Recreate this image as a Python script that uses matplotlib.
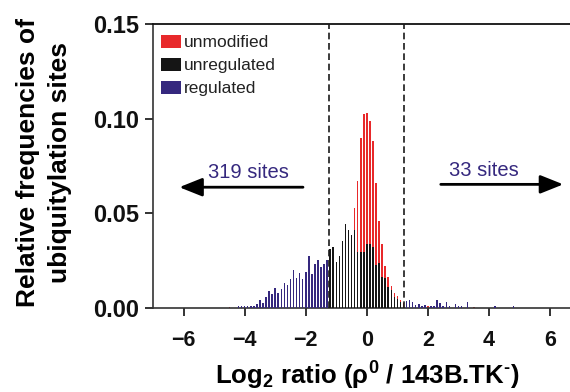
import matplotlib
matplotlib.use("Agg")
import matplotlib.pyplot as plt

plt.rcParams["font.family"] = ["Liberation Sans", "DejaVu Sans"]
plt.rcParams["mathtext.fontset"] = "custom"
plt.rcParams["mathtext.rm"] = "Liberation Sans:bold"
plt.rcParams["mathtext.it"] = "Liberation Sans:bold"
plt.rcParams["mathtext.bf"] = "Liberation Sans:bold"

# Histogram bins (log2 ratio bin centres) and relative frequencies
unmod_x = [-4.5, -0.4, -0.3, -0.2, -0.1, 0.0, 0.1, 0.2, 0.3, 0.4, 0.5, 0.6,
           0.7, 0.8, 0.9, 1.0, 1.1, 1.2, 1.3, 1.5, 1.6, 2.0, 2.6, 3.1, 3.5]
unmod_y = [0.0006, 0.053, 0.067, 0.090, 0.1025, 0.103, 0.099, 0.088, 0.066,
           0.046, 0.034, 0.022, 0.0165, 0.0115, 0.008, 0.0063, 0.0042, 0.0025,
           0.0015, 0.0012, 0.0010, 0.0008, 0.0006, 0.0006, 0.0006]

unreg_x = [-1.2, -1.1, -1.0, -0.9, -0.8, -0.7, -0.6, -0.5, -0.4, -0.3, -0.2,
           -0.1, 0.0, 0.1, 0.2, 0.3, 0.4, 0.5, 0.6, 0.7, 0.8, 0.9, 1.0, 1.1]
unreg_y = [0.031, 0.032, 0.0245, 0.0275, 0.0355, 0.0443, 0.041, 0.0386, 0.041,
           0.0296, 0.0296, 0.0296, 0.034, 0.034, 0.032, 0.0226, 0.0236, 0.0165,
           0.016, 0.0112, 0.0095, 0.006, 0.005, 0.0033]

reg_x = [-4.2, -4.1, -4.0, -3.9, -3.8, -3.7, -3.6, -3.5, -3.4, -3.3, -3.2,
         -3.1, -3.0, -2.9, -2.8, -2.7, -2.6, -2.5, -2.4, -2.3, -2.2, -2.1,
         -2.0, -1.9, -1.8, -1.7, -1.6, -1.5, -1.4, -1.3,
         1.3, 1.4, 1.5, 1.6, 1.7, 1.8, 1.9, 2.1, 2.2, 2.3, 2.4, 2.5, 2.6, 2.7,
         2.9, 3.0, 3.1, 3.3, 4.2, 4.8]
reg_y = [0.0008, 0.0008, 0.0008, 0.0010, 0.0010, 0.0012, 0.0020, 0.0042,
         0.0025, 0.0060, 0.0088, 0.0075, 0.0105, 0.0078, 0.0100, 0.0133,
         0.0122, 0.0155, 0.0200, 0.0160, 0.0185, 0.0155, 0.0190, 0.0275,
         0.0180, 0.0235, 0.0255, 0.0215, 0.0230, 0.0255,
         0.0038, 0.0042, 0.0030, 0.0018, 0.0023, 0.0012, 0.0018, 0.0009,
         0.0012, 0.0044, 0.0026, 0.0012, 0.0030, 0.0008, 0.0023, 0.0008,
         0.0012, 0.0033, 0.0012, 0.0012]

series_labels = ["unmodified", "unregulated", "regulated"]
cutoffs = [-1.24, 1.2]
left_count = "319 sites"
right_count = "33 sites"

RED = "#e8292b"
BLACK = "#151515"
NAVY = "#35287e"

fig = plt.figure(figsize=(5.7, 3.92), dpi=100)
ax = fig.add_axes([153 / 570, 84 / 392, 417 / 570, 284 / 392])

w = 0.05
ax.bar(unmod_x, unmod_y, width=w, color=RED, label=series_labels[0], zorder=2)
ax.bar(unreg_x, unreg_y, width=w, color=BLACK, label=series_labels[1], zorder=3)
ax.bar(reg_x, reg_y, width=w, color=NAVY, label=series_labels[2], zorder=4)

for c in cutoffs:
    ax.axvline(c, color="#1a1a1a", lw=1.2, ls=(0, (4, 2.2)), zorder=5)

ax.set_xlim(-7, 6.65)
ax.set_ylim(0, 0.15)
ax.set_xticks([-6, -4, -2, 0, 2, 4, 6])
ax.set_yticks([0, 0.05, 0.10, 0.15])
ax.set_yticklabels(["0.00", "0.05", "0.10", "0.15"])

for lab in ax.get_yticklabels():
    lab.set_fontsize(17)
    lab.set_fontweight("bold")
for lab in ax.get_xticklabels():
    lab.set_fontsize(15.5)
    lab.set_fontweight("bold")

ax.tick_params(axis="x", direction="out", length=6, width=1.2, pad=10,
               colors="#111111")
ax.tick_params(axis="y", direction="out", length=6, width=1.2, pad=4,
               colors="#111111")

ax.spines["right"].set_visible(False)
for s in ["left", "bottom"]:
    ax.spines[s].set_color("#333333")
    ax.spines[s].set_linewidth(1.2)
ax.spines["top"].set_color("#111111")
ax.spines["top"].set_linewidth(1.3)

ax.set_ylabel("Relative frequencies of\nubiquitylation sites", fontsize=19,
              fontweight="bold", linespacing=1.4, va="center")
ax.yaxis.set_label_coords(-0.262, 0.512)
ax.set_xlabel(r"Log$_{2}$ ratio (ρ$^{0}$ / 143B.TK$^{\text{-}}$)",
              fontsize=18.5, fontweight="bold", va="center")
ax.xaxis.set_label_coords(0.514, -0.24)

leg = ax.legend(loc="upper left", bbox_to_anchor=(0.0, 0.99), frameon=False,
                fontsize=12.5, handlelength=1.15, handleheight=0.8,
                handletextpad=0.2, labelspacing=0.42, borderaxespad=0.05,
                borderpad=0.4)
for t in leg.get_texts():
    t.set_color("#222222")

# Direction arrows with site counts
ax.text(-3.87, 0.0717, left_count, color=NAVY, fontsize=14.5,
        ha="center", va="center")
ax.annotate("", xy=(-6.14, 0.0638), xytext=(-2.09, 0.0638),
            arrowprops=dict(arrowstyle="-|>,head_length=0.7,head_width=0.28",
                            mutation_scale=20, lw=2, color="black",
                            shrinkA=0, shrinkB=0))
ax.text(3.82, 0.0726, right_count, color=NAVY, fontsize=14.5,
        ha="center", va="center")
ax.annotate("", xy=(6.43, 0.0653), xytext=(2.42, 0.0653),
            arrowprops=dict(arrowstyle="-|>,head_length=0.7,head_width=0.28",
                            mutation_scale=20, lw=2, color="black",
                            shrinkA=0, shrinkB=0), annotation_clip=False)

fig.savefig("out.png", dpi=100)
